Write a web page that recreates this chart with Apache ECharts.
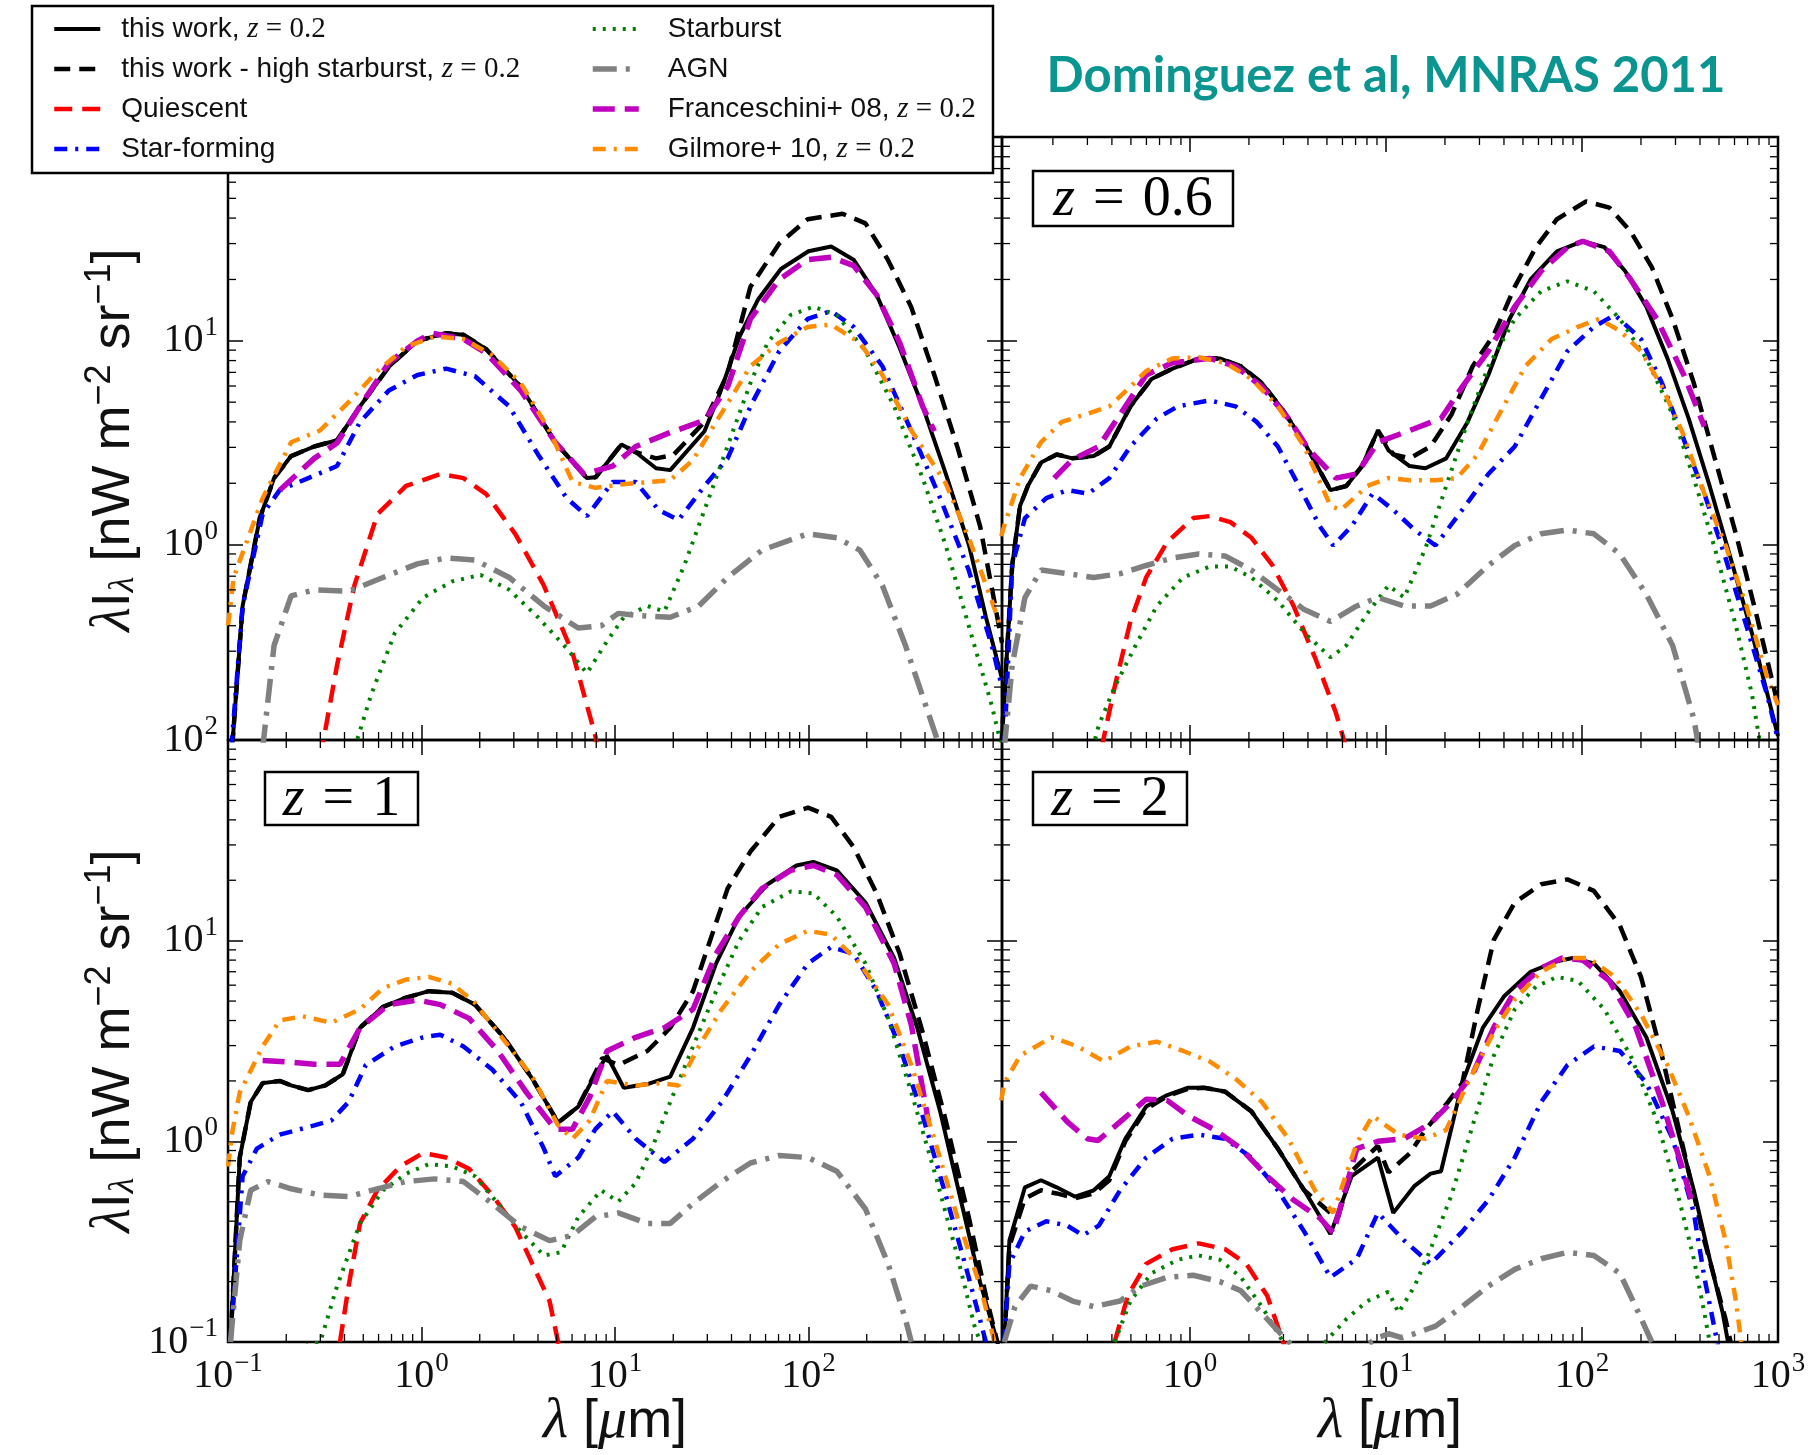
<!DOCTYPE html>
<html><head><meta charset="utf-8">
<script src="https://cdn.jsdelivr.net/npm/echarts@6.0.0/dist/echarts.min.js"></script>
<style>html,body{margin:0;padding:0;background:#fff}#c{width:1814px;height:1455px}</style>
</head><body><div id="c"></div>
<script>
// ---------------- DATA (λ [µm], λIλ [nW m^-2 sr^-1]) ----------------
const legendNames = ['this work, z = 0.2','this work - high starburst, z = 0.2','Quiescent','Star-forming','Starburst','AGN','Franceschini+ 08, z = 0.2','Gilmore+ 10, z = 0.2'];
const panelLabels = ['', '0.6', '1', '2'];
const xLabelExpBottomLeft = [-1,0,1,2];
const xLabelExpBottomRight = [0,1,2,3];
const yLabelExpTopLeft = [0,1];
const yLabelExpBottomLeft = [-1,0,1,2];

// z = 0.2 (top-left)
const thisWork_z02 = [[0.105,0.1],[0.119,0.5],[0.146,1.35],[0.173,2.12],[0.212,2.72],[0.279,3.03],[0.366,3.25],[0.481,4.77],[0.678,7.46],[0.953,10],[1.34,10.9],[1.65,10.7],[2.16,9.1],[3.26,5.95],[4.91,3.18],[7.16,2.12],[7.94,2.14],[10.8,3.1],[12.8,2.84],[16.3,2.37],[19.3,2.32],[29,3.6],[35,5.6],[44,10.5],[55,16],[72,22.5],[100,27.5],[131,29],[171,25],[225,16.8],[295,9.3],[389,4.77],[513,2.22],[676,0.99],[826,0.44],[1000,0.22]];
const highSB_z02 = [[0.105,0.1],[0.119,0.5],[0.146,1.35],[0.173,2.12],[0.212,2.72],[0.279,3.03],[0.366,3.25],[0.481,4.77],[0.678,7.46],[0.953,10],[1.34,10.9],[1.65,10.7],[2.16,9.1],[3.26,5.95],[4.91,3.18],[7.16,2.12],[7.94,2.14],[10.8,3.1],[12.8,2.84],[16.3,2.65],[20,2.75],[29,4.0],[38,6.8],[50.1,18.4],[70.6,30],[99,39.5],[150,42],[197,37.7],[257,25],[339,14.7],[447,6.8],[589,3.0],[771,1.23],[946,0.44],[1000,0.33]];
const quiescent_z02 = [[0.3,0.09],[0.366,0.256],[0.45,0.63],[0.592,1.41],[0.832,1.94],[1.25,2.22],[1.65,2.12],[2.16,1.77],[3.05,1.13],[4.29,0.63],[6.03,0.295],[7.92,0.115],[8.5,0.08]];
const starForming_z02 = [[0.104,0.1],[0.119,0.5],[0.151,1.41],[0.185,1.85],[0.26,2.12],[0.366,2.43],[0.481,4.0],[0.678,5.7],[0.953,6.8],[1.34,7.3],[1.89,6.7],[2.84,4.77],[4.0,2.77],[5.63,1.69],[7.16,1.38],[9.73,2.03],[12.8,2.03],[16.8,1.48],[21.3,1.32],[29,1.94],[38.2,2.65],[50.1,4.77],[70.6,8.9],[99,12.8],[131,14],[171,11.7],[241,7.5],[339,3.63],[479,1.69],[673,0.75],[885,0.32],[1000,0.2]];
const starburst_z02 = [[0.45,0.1],[0.552,0.186],[0.726,0.366],[1.02,0.55],[1.44,0.66],[2.02,0.71],[2.84,0.6],[4.0,0.44],[5.63,0.31],[7.16,0.234],[9.08,0.335],[11.1,0.44],[14.7,0.5],[18,0.47],[22.8,0.79],[27.1,1.24],[33.3,2.12],[40.8,3.63],[50.1,6.2],[61.5,9.8],[80.9,13.4],[106,14.7],[140,13.4],[197,8.9],[277,4.77],[389,2.12],[512,0.99],[673,0.4],[885,0.163],[1000,0.1]];
const agn_z02 = [[0.151,0.1],[0.173,0.32],[0.212,0.56],[0.279,0.6],[0.42,0.59],[0.632,0.69],[0.953,0.805],[1.34,0.86],[1.89,0.84],[2.84,0.69],[4.29,0.5],[6.46,0.39],[8.5,0.4],[10.4,0.46],[12.8,0.45],[19.3,0.44],[27.1,0.5],[38.2,0.69],[57.5,0.94],[99,1.13],[140,1.08],[184,0.94],[241,0.63],[317,0.32],[389,0.18],[479,0.1]];
const franceschini_z02 = [[0.185,1.85],[0.279,2.65],[0.366,3.15],[0.481,4.77],[0.678,7.8],[0.953,10],[1.13,10.9],[1.65,10.2],[2.16,8.7],[3.26,5.7],[4.91,3.18],[6.92,2.22],[9.73,2.43],[12.8,3.03],[19.3,3.55],[29,4.07],[38.2,5.95],[50.1,12.8],[70.6,20],[99,25],[131,25.7],[171,23.4],[225,16.8],[296,9.8],[389,4.77],[447,3.6]];
const gilmore_z02 = [[0.1,0.4],[0.107,0.69],[0.151,1.69],[0.212,3.18],[0.299,3.63],[0.42,5.0],[0.592,7.1],[0.832,9.35],[1.17,10.5],[1.65,10.2],[2.32,8.5],[3.26,6.2],[4.59,3.63],[6.03,2.03],[7.92,1.9],[11.1,1.98],[19.3,2.07],[25.3,2.6],[33.3,4.0],[50.1,7.5],[70.6,9.8],[99,11.7],[131,12],[184,9.8],[241,6.8],[340,3.63],[512,2.0],[673,1.08],[885,0.53],[1000,0.38]];

// z = 0.6 (top-right)
const thisWork_z06 = [[0.109,0.1],[0.124,0.79],[0.136,1.55],[0.149,1.94],[0.174,2.53],[0.209,2.77],[0.252,2.65],[0.323,2.72],[0.388,3.03],[0.497,4.77],[0.637,6.5],[0.815,7.3],[1.11,8.2],[1.42,8.2],[1.82,7.5],[2.33,6.2],[2.99,4.55],[3.83,3.18],[5.21,1.85],[6.28,1.94],[7.55,2.43],[9.1,3.63],[10.3,2.9],[13.2,2.43],[15.9,2.37],[20.3,2.65],[26.1,4.0],[33.3,6.8],[42.7,12.8],[54.7,20],[74.5,27.5],[101,30.8],[130,28.8],[166,22],[213,14.7],[273,8.2],[350,4.16],[448,1.94],[573,0.86],[735,0.37],[1000,0.115]];
const highSB_z06 = [[0.109,0.1],[0.124,0.79],[0.136,1.55],[0.149,1.94],[0.174,2.53],[0.209,2.77],[0.252,2.65],[0.323,2.72],[0.388,3.03],[0.497,4.77],[0.637,6.5],[0.815,7.3],[1.11,8.2],[1.42,8.2],[1.82,7.5],[2.33,6.2],[2.99,4.55],[3.83,3.18],[5.21,1.85],[6.28,1.94],[7.55,2.43],[9.1,3.63],[10.9,2.77],[13.2,2.65],[16.9,3.03],[21.6,4.35],[27.7,7.5],[35.5,10.7],[45.4,18.4],[58.2,28.8],[74.5,39.5],[105,48.3],[138,45],[177,34.4],[227,23],[290,12.8],[372,6.2],[476,2.65],[610,1.13],[782,0.44],[1000,0.163]];
const quiescent_z06 = [[0.354,0.1],[0.413,0.2],[0.497,0.42],[0.598,0.69],[0.766,1.03],[1.04,1.35],[1.26,1.38],[1.61,1.29],[2.06,1.08],[2.64,0.79],[3.38,0.5],[4.34,0.28],[5.55,0.15],[6.28,0.1],[7,0.07]];
const starForming_z06 = [[0.113,0.1],[0.124,0.79],[0.144,1.35],[0.185,1.69],[0.237,1.85],[0.303,1.78],[0.388,2.12],[0.497,3.03],[0.678,4.16],[0.867,4.77],[1.26,5.1],[1.71,4.77],[2.19,4.0],[2.81,3.03],[3.6,1.94],[4.6,1.23],[5.38,0.99],[6.68,1.23],[8.55,1.78],[10.9,1.48],[14,1.18],[17.9,0.99],[24.5,1.48],[33.3,2.22],[45.4,3.03],[61.9,5.2],[84.3,8.9],[115,11.7],[147,13.4],[200,10.2],[256,6.2],[329,3.32],[421,1.78],[540,0.86],[690,0.4],[885,0.18],[1000,0.11]];
const starburst_z06 = [[0.3,0.08],[0.343,0.13],[0.413,0.2],[0.528,0.32],[0.678,0.5],[0.923,0.69],[1.26,0.78],[1.61,0.78],[2.06,0.69],[2.81,0.53],[3.83,0.37],[5.21,0.28],[6.28,0.32],[8.04,0.46],[10.3,0.63],[12.4,0.55],[15.9,0.96],[20.3,1.94],[26.1,4.0],[33.3,7.5],[45.4,12.8],[61.9,17.5],[84.3,19.6],[115,17.5],[156,12.8],[213,8.2],[290,4.35],[372,2.12],[476,0.96],[610,0.4],[735,0.186],[782,0.13],[850,0.08]];
const agn_z06 = [[0.113,0.1],[0.124,0.256],[0.144,0.55],[0.174,0.75],[0.237,0.72],[0.323,0.69],[0.44,0.72],[0.598,0.79],[0.815,0.86],[1.11,0.9],[1.51,0.88],[2.06,0.75],[2.81,0.6],[3.83,0.48],[5.21,0.42],[7.1,0.5],[9.1,0.55],[12.4,0.5],[16.9,0.5],[23,0.57],[33.3,0.79],[45.4,0.99],[61.9,1.13],[84.3,1.18],[115,1.13],[156,0.9],[213,0.57],[290,0.32],[372,0.14],[395,0.1]];
const franceschini_z06 = [[0.203,2.12],[0.25,2.6],[0.343,3.03],[0.44,4.35],[0.598,6.8],[0.815,7.8],[1.26,8.2],[1.71,7.5],[2.33,5.95],[3.18,4.16],[4.07,2.9],[5.55,2.12],[7.1,2.22],[9.1,3.18],[13.2,3.63],[19.1,4.16],[24.5,5.95],[33.3,8.9],[45.4,14.7],[61.9,22],[84.3,28.8],[101,30.8],[138,27.5],[177,20],[241,12.8],[331,6.8],[421,3.8]];
const gilmore_z06 = [[0.109,1.1],[0.113,1.24],[0.136,2.12],[0.174,3.18],[0.222,4.0],[0.303,4.4],[0.388,4.77],[0.497,5.95],[0.598,7.1],[0.815,8.2],[1.11,8.3],[1.51,7.8],[2.06,6.5],[2.81,4.77],[3.83,3.03],[5.21,1.55],[5.9,1.48],[8.04,1.94],[10.3,2.12],[13.2,2.07],[17.9,2.07],[23,2.12],[29.4,2.77],[37.8,4.35],[51.4,7.5],[70,10.2],[95.3,11.7],[122,12.8],[156,11.2],[200,8.9],[256,5.95],[329,3.47],[421,1.78],[540,0.99],[690,0.5],[885,0.22],[1000,0.163]];

// z = 1 (bottom-left)
const thisWork_z1 = [[0.103,0.1],[0.115,0.83],[0.131,1.57],[0.151,1.95],[0.185,2.0],[0.212,1.9],[0.26,1.8],[0.319,1.9],[0.392,2.16],[0.481,3.68],[0.633,4.68],[0.832,5.2],[1.09,5.6],[1.44,5.5],[1.89,4.8],[2.66,3.3],[3.74,2.05],[5.08,1.24],[6.46,1.49],[7.92,2.16],[9.09,2.67],[11.1,1.85],[14.7,1.93],[19.3,2.1],[25.3,3.68],[33.3,7.7],[43.8,13.2],[61.5,19.1],[86.7,23.7],[106,24.7],[140,22.4],[197,15.5],[277,8.2],[364,3.7],[479,1.41],[628,0.46],[771,0.198],[946,0.1],[1000,0.08]];
const highSB_z1 = [[0.103,0.1],[0.115,0.83],[0.131,1.57],[0.151,1.95],[0.185,2.0],[0.212,1.9],[0.26,1.8],[0.319,1.9],[0.392,2.16],[0.481,3.68],[0.633,4.68],[0.832,5.2],[1.09,5.6],[1.44,5.5],[1.89,4.8],[2.66,3.3],[3.74,2.05],[5.08,1.24],[6.46,1.49],[7.92,2.2],[8.6,2.6],[10.4,2.4],[14.7,2.82],[19.3,3.68],[25.3,5.6],[31.1,10.1],[38.2,18.2],[50.1,27.8],[70.6,41.4],[99.4,46],[131,41.4],[171,29.3],[225,17.2],[296,8.6],[389,3.5],[512,1.27],[673,0.42],[826,0.17],[946,0.1]];
const quiescent_z1 = [[0.379,0.1],[0.42,0.19],[0.481,0.39],[0.591,0.57],[0.777,0.75],[1.02,0.875],[1.34,0.83],[1.76,0.73],[2.32,0.54],[3.05,0.375],[3.74,0.245],[4.59,0.16],[5.08,0.1],[5.5,0.08]];
const starForming_z1 = [[0.103,0.1],[0.119,0.67],[0.141,0.92],[0.185,1.08],[0.279,1.2],[0.342,1.27],[0.42,1.57],[0.515,2.4],[0.726,2.97],[1.02,3.3],[1.25,3.4],[1.65,2.97],[2.32,2.28],[3.26,1.57],[4.29,0.92],[4.91,0.67],[6.46,0.83],[7.92,1.15],[9.73,1.41],[12.8,1.03],[18,0.79],[25.3,1.03],[35.6,1.57],[50.1,2.67],[70.6,4.8],[99.4,7.7],[131,9.3],[171,8.6],[225,5.6],[296,2.97],[389,1.34],[512,0.54],[673,0.21],[826,0.1]];
const starburst_z1 = [[0.2,0.09],[0.3,0.1],[0.366,0.19],[0.481,0.39],[0.633,0.57],[0.832,0.69],[1.09,0.77],[1.44,0.75],[1.89,0.67],[2.48,0.49],[3.26,0.355],[4.29,0.27],[5.26,0.28],[6.46,0.42],[8.49,0.57],[10.4,0.5],[12.8,0.62],[15.7,0.95],[19.3,1.57],[25.3,2.97],[33.3,5.6],[43.8,10],[57.5,14.7],[80.9,17.6],[106,17.2],[140,13.2],[197,7.7],[258,4.1],[340,1.75],[447,0.71],[587,0.27],[721,0.12],[771,0.1]];
const agn_z1 = [[0.103,0.1],[0.115,0.32],[0.131,0.57],[0.161,0.63],[0.212,0.58],[0.299,0.54],[0.42,0.53],[0.591,0.58],[0.832,0.63],[1.17,0.65],[1.65,0.63],[2.32,0.49],[3.26,0.375],[4.59,0.32],[6.03,0.34],[7.92,0.42],[10.4,0.44],[14.7,0.39],[19.3,0.39],[25.3,0.49],[35.6,0.63],[50.1,0.78],[70.6,0.85],[99.4,0.83],[140,0.71],[197,0.46],[258,0.245],[317,0.13],[340,0.1]];
const franceschini_z1 = [[0.151,2.53],[0.212,2.48],[0.279,2.42],[0.379,2.42],[0.481,3.68],[0.678,4.8],[0.953,5.06],[1.25,4.8],[1.76,4.1],[2.48,2.82],[3.49,1.75],[4.91,1.15],[6.03,1.15],[7.4,1.66],[9.09,2.82],[12.8,3.3],[18,3.68],[25.3,4.55],[33.3,8.6],[43.8,13.2],[57.5,18.2],[80.9,22.4],[106,23.7],[140,21.3],[197,14.7],[277,7.7],[340,3.8],[417,1.25]];
const gilmore_z1 = [[0.1,0.75],[0.105,1.1],[0.115,1.75],[0.151,2.97],[0.185,4.0],[0.243,4.2],[0.342,3.9],[0.481,4.55],[0.633,5.8],[0.832,6.4],[1.09,6.6],[1.44,6.1],[1.89,4.9],[2.48,3.5],[3.74,2.1],[5.08,1.2],[6.03,1.03],[7.4,1.27],[9.09,2.0],[12.8,1.9],[17,1.95],[21.3,1.9],[27.1,2.97],[35.6,4.55],[50.1,7],[70.6,9.6],[99.4,11.2],[131,10.7],[184,7.7],[258,4.8],[340,2.4],[447,1.03],[587,0.42],[771,0.19],[915,0.1]];

// z = 2 (bottom-right)
const thisWork_z2 = [[0.113,0.1],[0.12,0.32],[0.144,0.59],[0.174,0.64],[0.209,0.59],[0.26,0.53],[0.323,0.57],[0.388,0.67],[0.468,1.03],[0.598,1.49],[0.766,1.7],[0.98,1.85],[1.18,1.85],[1.51,1.77],[2.06,1.41],[2.81,0.92],[3.83,0.57],[5.21,0.345],[6.68,0.67],[9.1,0.83],[10.9,0.44],[14,0.6],[16.9,0.69],[19.1,0.71],[24.5,1.95],[31.3,3.7],[40.2,5.3],[54.7,7.0],[74.5,7.9],[89.7,8.2],[115,7.7],[156,5.6],[213,3.3],[290,1.41],[372,0.57],[448,0.26],[522,0.14],[556,0.1]];
const highSB_z2 = [[0.113,0.1],[0.12,0.3],[0.144,0.52],[0.174,0.57],[0.209,0.55],[0.26,0.52],[0.323,0.55],[0.388,0.64],[0.468,1.0],[0.598,1.45],[0.766,1.68],[0.98,1.83],[1.18,1.85],[1.51,1.77],[2.06,1.41],[2.81,0.92],[3.83,0.57],[5.21,0.44],[5.7,0.42],[6.68,0.71],[9.1,0.95],[10.3,0.7],[13.2,0.87],[15.9,1.14],[20.3,1.53],[24.5,1.95],[29.4,4.55],[35.5,10.1],[45.4,15.5],[61.9,19.1],[84.3,20.2],[115,17.7],[156,11.9],[200,6.6],[256,2.67],[329,0.92],[421,0.32],[540,0.13],[573,0.1]];
const quiescent_z2 = [[0.413,0.1],[0.482,0.17],[0.598,0.245],[0.815,0.29],[1.11,0.31],[1.51,0.29],[1.94,0.245],[2.48,0.17],[2.99,0.1],[3.5,0.06]];
const starForming_z2 = [[0.113,0.1],[0.12,0.245],[0.144,0.355],[0.185,0.4],[0.237,0.38],[0.285,0.34],[0.343,0.38],[0.44,0.57],[0.598,0.83],[0.815,1.03],[1.11,1.08],[1.51,1.03],[2.06,0.83],[2.81,0.57],[3.83,0.355],[5.21,0.21],[7.1,0.26],[9.1,0.44],[12.4,0.32],[16.9,0.245],[24.5,0.355],[33.3,0.51],[45.4,0.83],[61.9,1.57],[84.3,2.4],[115,2.97],[156,2.82],[213,1.95],[290,1.03],[372,0.44],[421,0.21],[476,0.115],[500,0.09]];
const starburst_z2 = [[0.413,0.1],[0.497,0.16],[0.637,0.22],[0.867,0.257],[1.11,0.27],[1.42,0.257],[1.82,0.21],[2.33,0.15],[2.99,0.1],[3.8,0.07],[4.9,0.1],[6.28,0.13],[8.04,0.16],[10.3,0.178],[11.6,0.14],[14,0.19],[16.9,0.29],[21.6,0.54],[27.7,1.2],[35.5,2.67],[45.4,4.55],[58.2,5.9],[74.5,6.6],[95.3,6.3],[130,4.55],[177,2.67],[241,1.27],[309,0.54],[372,0.26],[421,0.14],[448,0.1]];
const agn_z2 = [[0.113,0.1],[0.128,0.15],[0.154,0.19],[0.197,0.18],[0.252,0.16],[0.323,0.15],[0.44,0.16],[0.563,0.19],[0.766,0.21],[1.04,0.215],[1.42,0.2],[1.82,0.18],[2.48,0.13],[3.18,0.1],[4.5,0.08],[6.5,0.085],[9.1,0.105],[10.3,0.11],[12,0.105],[14,0.11],[17.9,0.12],[24.5,0.15],[33.3,0.19],[45.4,0.23],[61.9,0.26],[84.3,0.28],[115,0.27],[156,0.22],[188,0.15],[227,0.1]];
const franceschini_z2 = [[0.174,1.75],[0.237,1.25],[0.3,1.03],[0.34,1.01],[0.44,1.25],[0.598,1.62],[0.766,1.6],[0.98,1.34],[1.34,1.14],[1.82,0.92],[2.48,0.67],[3.38,0.51],[4.6,0.415],[5.38,0.35],[7.1,0.92],[9.1,1.0],[12.4,1.03],[16.9,1.23],[21.6,1.57],[27.7,2.16],[35.5,3.7],[45.4,5.6],[61.9,7.3],[79.3,8.2],[101,8.0],[138,6.3],[188,3.7],[256,1.57],[329,0.71],[372,0.46]];
const gilmore_z2 = [[0.109,1.6],[0.113,1.95],[0.136,2.67],[0.197,3.3],[0.268,2.97],[0.365,2.5],[0.497,2.97],[0.678,3.14],[0.923,2.82],[1.26,2.5],[1.71,2.05],[2.33,1.57],[3.18,1.03],[4.34,0.57],[5.38,0.44],[7.1,0.98],[8.55,1.34],[11.6,1.08],[15.9,1.03],[20.3,1.14],[26.1,1.95],[35.5,3.5],[45.4,5.1],[61.9,7.0],[84.3,8.2],[108,8.2],[147,6.6],[200,4.3],[273,2.4],[350,1.34],[448,0.67],[540,0.32],[610,0.16],[649,0.1]];

// ---------------- CHART ----------------
const panels = [
  [thisWork_z02, highSB_z02, quiescent_z02, starForming_z02, starburst_z02, agn_z02, franceschini_z02, gilmore_z02],
  [thisWork_z06, highSB_z06, quiescent_z06, starForming_z06, starburst_z06, agn_z06, franceschini_z06, gilmore_z06],
  [thisWork_z1, highSB_z1, quiescent_z1, starForming_z1, starburst_z1, agn_z1, franceschini_z1, gilmore_z1],
  [thisWork_z2, highSB_z2, quiescent_z2, starForming_z2, starburst_z2, agn_z2, franceschini_z2, gilmore_z2]
];
const lineStyles = [
  {color:'#000000', width:4, type:'solid'},
  {color:'#000000', width:4.5, type:[16,9]},
  {color:'#ff0000', width:4.5, type:[18,10]},
  {color:'#0000ff', width:4.5, type:[13,8,3,8]},
  {color:'#008000', width:4, type:[3,7]},
  {color:'#808080', width:5.5, type:[24,9,4,9]},
  {color:'#bf00bf', width:5.5, type:[22,10]},
  {color:'#ff8c00', width:4.5, type:[13,8,3,8]}
];

const SERIF = 'Liberation Serif';
const SANS = 'Liberation Sans';
const INK = '#111111';

const gridBoxes = [
  {left:228, top:137, width:774, height:603},
  {left:1002, top:137, width:776, height:603},
  {left:228, top:740, width:774, height:602},
  {left:1002, top:740, width:776, height:602}
];
const xMins = [0.1, 0.11, 0.1, 0.11];
const yMins = [0.11, 0.11, 0.1, 0.1];
const xLabelSets = [null, null, xLabelExpBottomLeft, xLabelExpBottomRight];
const yLabelSets = [yLabelExpTopLeft, null, yLabelExpBottomLeft, null];

function powLabel(allowed){
  return function(v){
    const l = Math.log10(v); const e = Math.round(l);
    if (Math.abs(l - e) > 1e-6 || allowed.indexOf(e) < 0) return '';
    return '{b|10}{s|' + (e < 0 ? '\u2212' + (-e) : String(e)) + '}';
  };
}
const tickRich = {
  b: {fontFamily: SERIF, fontSize: 40, color: INK},
  s: {fontFamily: SERIF, fontSize: 27, color: INK, padding: [0,0,26,1]}
};
const tickStyle = {show:true, inside:true, length:15, lineStyle:{color:'#000', width:1.5}};

const grid = gridBoxes.map(g => Object.assign({show:true, borderColor:'#000', borderWidth:2.5, backgroundColor:'transparent', containLabel:false}, g));
const xAxis = [], yAxis = [];
gridBoxes.forEach((g, i) => {
  ['bottom','top'].forEach((pos, k) => {
    const labels = (k === 0) ? xLabelSets[i] : null;
    xAxis.push({type:'log', logBase:10, gridIndex:i, position:pos, min:xMins[i], max:1000,
      axisLine:{show:false}, splitLine:{show:false}, axisTick:tickStyle,
      axisLabel:{show: !!labels, margin:8, formatter: labels ? powLabel(labels) : '', rich: tickRich}});
  });
  ['left','right'].forEach((pos, k) => {
    const labels = (k === 0) ? yLabelSets[i] : null;
    yAxis.push({type:'log', logBase:10, gridIndex:i, position:pos, min:yMins[i], max:100,
      axisLine:{show:false}, splitLine:{show:false}, axisTick:tickStyle,
      axisLabel:{show: !!labels, margin:10, formatter: labels ? powLabel(labels) : '', rich: tickRich}});
  });
});

// minor tick positions (axis decoration)
const minorTicks = [];
for (let e = -1; e <= 2; e++) for (let k = 2; k <= 9; k++) minorTicks.push([k * Math.pow(10, e), 1, 0]);
for (let e = -1; e <= 1; e++) for (let k = 2; k <= 9; k++) minorTicks.push([1, k * Math.pow(10, e), 1]);

function renderMinor(params, api){
  const cs = params.coordSys; const L = 8;
  const st = {stroke:'#000', lineWidth:1.3};
  if (api.value(2) === 0) {
    const x = api.coord([api.value(0), 1])[0];
    if (x <= cs.x + 1 || x >= cs.x + cs.width - 1) return null;
    return {type:'group', children:[
      {type:'line', shape:{x1:x, y1:cs.y + cs.height, x2:x, y2:cs.y + cs.height - L}, style:st},
      {type:'line', shape:{x1:x, y1:cs.y, x2:x, y2:cs.y + L}, style:st}
    ]};
  } else {
    const y = api.coord([1, api.value(1)])[1];
    if (y <= cs.y + 1 || y >= cs.y + cs.height - 1) return null;
    return {type:'group', children:[
      {type:'line', shape:{x1:cs.x, y1:y, x2:cs.x + L, y2:y}, style:st},
      {type:'line', shape:{x1:cs.x + cs.width, y1:y, x2:cs.x + cs.width - L, y2:y}, style:st}
    ]};
  }
}

const series = [];
panels.forEach((arrs, i) => {
  arrs.forEach((d, j) => {
    const ls = lineStyles[j];
    series.push({type:'line', name: legendNames[j], xAxisIndex: 2*i, yAxisIndex: 2*i, data: d,
      symbol:'none', showSymbol:false, smooth:false, silent:true, clip:true, z: 2 + j*0.01,
      lineStyle:{color: ls.color, width: ls.width, type: ls.type, cap:'butt'},
      itemStyle:{color: ls.color}, emphasis:{disabled:true}});
  });
  series.push({type:'custom', xAxisIndex: 2*i, yAxisIndex: 2*i, data: minorTicks, renderItem: renderMinor, silent:true, clip:false, z:3});
});

function legendFmt(pad){
  return function(name){
    const parts = name.split('z = 0.2');
    let s = '{' + pad + '| }{t|' + parts[0] + '}';
    if (parts.length > 1) s += '{i|z}{n| = 0.2}';
    return s;
  };
}
const legendRich = {
  p18:{width:16}, p24:{width:24},
  t:{fontFamily:SANS, fontSize:28, color:INK, lineHeight:30},
  i:{fontFamily:SERIF, fontStyle:'italic', fontSize:29, color:INK, lineHeight:30},
  n:{fontFamily:SERIF, fontSize:29, color:INK, lineHeight:30}
};
function mkLegend(names, left, pad){
  return {data:names, orient:'vertical', left:left, top:14, itemWidth:46, itemHeight:14, itemGap:10,
    padding:0, selectedMode:false, z:60, formatter: legendFmt(pad),
    itemStyle:{opacity:0}, lineStyle:{width:'inherit'},
    textStyle:{fontFamily:SANS, fontSize:28, color:INK, lineHeight:30, rich:legendRich}};
}

const zRich = {
  i:{fontFamily:SERIF, fontStyle:'italic', fontSize:56, fill:'#000'},
  e:{fontFamily:SERIF, fontSize:56, fill:'#000', padding:[0,18,0,18]},
  n:{fontFamily:SERIF, fontSize:56, fill:'#000'}
};
function zBox(x, y, w, h, val){
  return [
    {type:'rect', shape:{x:x, y:y, width:w, height:h}, style:{fill:'#fff', stroke:'#000', lineWidth:2.5}, z:50},
    {type:'text', x:x + w/2, y:y + h/2 + 2, style:{text:'{i|z}{e|=}{n|' + val + '}', rich:zRich, align:'center', verticalAlign:'middle'}, z:51}
  ];
}
const yTitleRich = {
  g:{fontFamily:SERIF, fontStyle:'italic', fontSize:56, fill:INK},
  n:{fontFamily:SANS, fontSize:54, fill:INK},
  sub:{fontFamily:SERIF, fontStyle:'italic', fontSize:36, fill:INK, padding:[20,0,0,0]},
  sup:{fontFamily:SANS, fontSize:36, fill:INK, padding:[0,0,28,0]}
};
const yTitle = '{g|\u03bb}{n|I}{sub|\u03bb}{n| [nW m}{sup|\u22122}{n| sr}{sup|\u22121}{n|]}';
const xTitleRich = {
  g:{fontFamily:SERIF, fontStyle:'italic', fontSize:58, fill:INK},
  n:{fontFamily:SANS, fontSize:54, fill:INK}
};
const xTitle = '{g|\u03bb}{n| [}{g|\u03bc}{n|m]}';

const graphic = [
  {type:'rect', shape:{x:32, y:6, width:961, height:167}, style:{fill:'#fff', stroke:'#000', lineWidth:2.5}, z:50},
  {type:'text', x:1386, y:76, style:{text:'Dominguez et al, MNRAS 2011', fill:'#0a9590', fontFamily:'Lato', fontWeight:'bold', fontSize:49, align:'center', verticalAlign:'middle'}, z:50},
  ...zBox(1033, 171, 200, 55, panelLabels[1]),
  ...zBox(265, 772, 153, 53, panelLabels[2]),
  ...zBox(1033, 772, 154, 53, panelLabels[3]),
  {type:'text', x:114, y:440, rotation:Math.PI/2, style:{text:yTitle, rich:yTitleRich, align:'center', verticalAlign:'middle'}, z:50},
  {type:'text', x:114, y:1041, rotation:Math.PI/2, style:{text:yTitle, rich:yTitleRich, align:'center', verticalAlign:'middle'}, z:50},
  {type:'text', x:615, y:1422, style:{text:xTitle, rich:xTitleRich, align:'center', verticalAlign:'middle'}, z:50},
  {type:'text', x:1390, y:1422, style:{text:xTitle, rich:xTitleRich, align:'center', verticalAlign:'middle'}, z:50}
];

const chart = echarts.init(document.getElementById('c'), null, {renderer:'canvas', width:1814, height:1455});
chart.setOption({
  animation:false,
  backgroundColor:'#ffffff',
  grid: grid,
  xAxis: xAxis,
  yAxis: yAxis,
  legend: [mkLegend(legendNames.slice(0,4), 52, 'p18'), mkLegend(legendNames.slice(4), 590, 'p24')],
  graphic: graphic,
  series: series
});
</script></body></html>
